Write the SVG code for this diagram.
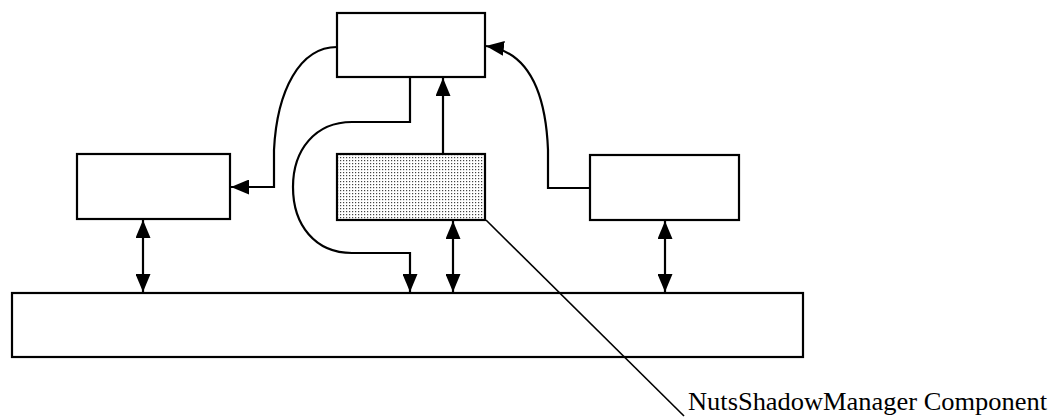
<svg xmlns="http://www.w3.org/2000/svg" width="1059" height="418" viewBox="0 0 1059 418">
  <style>
    .box { fill: #ffffff; stroke: #000000; stroke-width: 2.2; }
    .shaded { fill: url(#dots); stroke: #000000; stroke-width: 2.2; }
    .wire { fill: none; stroke: #000000; stroke-width: 2.2; }
    .leader { fill: none; stroke: #000000; stroke-width: 1.6; }
    .label { font-family: "Liberation Serif", "Times New Roman", serif; font-size: 26px; fill: #000000; }
  </style>
  <defs>
    <pattern id="dots" width="3" height="3" patternUnits="userSpaceOnUse">
      <rect width="3" height="3" fill="#ffffff"/>
      <rect x="1" y="1" width="1.2" height="1.2" fill="#444444"/>
    </pattern>
    <marker id="head" viewBox="0 0 18 15" markerWidth="18" markerHeight="15" refX="18" refY="7.5" orient="auto-start-reverse" markerUnits="userSpaceOnUse">
      <path d="M0,0 L18,7.5 L0,15 z" fill="#000000"/>
    </marker>
  </defs>

  <!-- base layer -->
  <g id="base">
    <rect class="box" x="12" y="293" width="791" height="64"/>
  </g>

  <!-- upper component -->
  <g id="top">
    <rect class="box" x="337" y="13" width="148" height="64"/>
  </g>

  <!-- left component -->
  <g id="left">
    <rect class="box" x="77" y="154" width="153" height="65"/>
  </g>

  <!-- shadow manager component -->
  <g id="shadow">
    <rect class="shaded" x="337" y="154" width="148" height="66"/>
  </g>

  <!-- right component -->
  <g id="right">
    <rect class="box" x="590" y="155" width="149" height="65"/>
  </g>

  <g id="connectors">
    <!-- top to left -->
    <path class="wire" d="M337,47 C300,47 277,90 274,150 V187 H231" marker-end="url(#head)"/>
    <!-- right to top -->
    <path class="wire" d="M590,188 H548 V150 C546,100 532,52 486,46" marker-end="url(#head)"/>
    <!-- shadow to top -->
    <path class="wire" d="M443,154 V78" marker-end="url(#head)"/>
    <!-- top looping round to base -->
    <path class="wire" d="M410,77 V122 H352 C315,122 293,150 293,187 C293,225 315,253 352,253 H410 V292" marker-end="url(#head)"/>
    <!-- two-way links to base -->
    <path class="wire" d="M143,220 V292" marker-start="url(#head)" marker-end="url(#head)"/>
    <path class="wire" d="M453,221 V292" marker-start="url(#head)" marker-end="url(#head)"/>
    <path class="wire" d="M665,221 V292" marker-start="url(#head)" marker-end="url(#head)"/>
    <!-- label leader -->
    <path class="leader" d="M486,220 L684,416"/>
  </g>

  <g id="caption">
    <text class="label" x="688" y="410" textLength="359" lengthAdjust="spacingAndGlyphs">NutsShadowManager Component</text>
  </g>
</svg>
